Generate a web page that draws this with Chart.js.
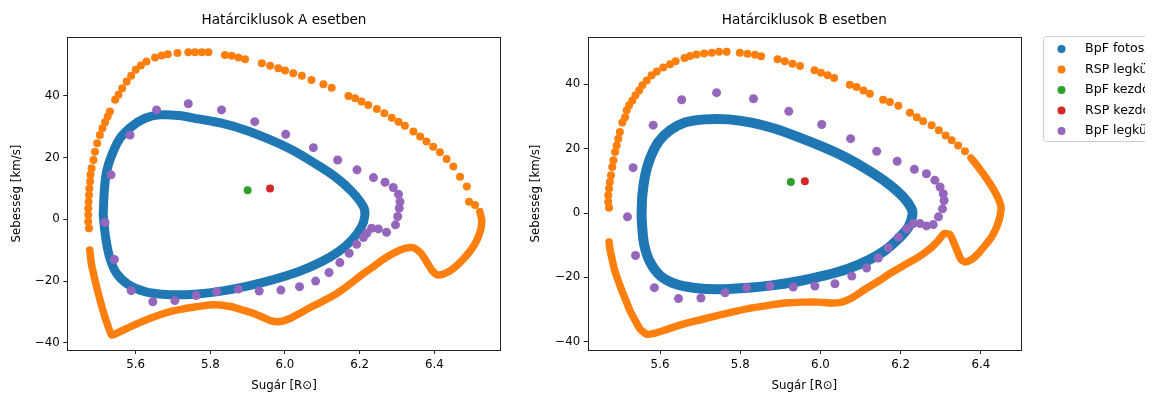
<!DOCTYPE html>
<html><head><meta charset="utf-8">
<script src="https://cdn.jsdelivr.net/npm/chart.js@4/dist/chart.umd.min.js"></script>
<style>
html,body{margin:0;padding:0;background:#fff;overflow:hidden;width:1152px;height:394px;}
canvas{position:absolute;top:0;}
#cA{left:0}
#cB{left:520px}
</style></head><body>
<canvas id="cA" width="520" height="394"></canvas>
<canvas id="cB" width="625" height="394"></canvas>
<script>
// ---------- tick labels & texts ----------
const X_TICKS = [5.6, 5.8, 6.0, 6.2, 6.4];
const Y_TICKS = [-40, -20, 0, 20, 40];
const TITLES = ['Határciklusok A esetben', 'Határciklusok B esetben'];
const X_LABEL = 'Sugár [R⊙]';
const Y_LABEL = 'Sebesség [km/s]';
const LEGEND_LABELS = ['BpF fotoszféra', 'RSP legkülső zóna', 'BpF kezdőpont', 'RSP kezdőpont', 'BpF legkülső zóna'];

// ---------- case A: [radius, velocity] ----------
const A_PHOT = [[5.513,1.4],[5.516,9.0],[5.522,15.4],[5.536,20.8],[5.558,26.2],[5.589,30.0],[5.625,32.7],[5.665,33.8],[5.714,33.6],[5.768,32.5],[5.830,31.1],[5.893,28.9],[5.955,26.0],[6.018,22.5],[6.080,18.1],[6.134,13.8],[6.179,9.0],[6.210,4.1],[6.214,1.4],[6.205,-2.4],[6.179,-6.7],[6.143,-10.5],[6.098,-13.7],[6.036,-17.0],[5.964,-19.7],[5.893,-21.8],[5.821,-23.4],[5.750,-24.3],[5.679,-24.3],[5.625,-23.4],[5.580,-21.1],[5.549,-17.5],[5.531,-12.6],[5.520,-6.2],[5.513,1.4]];
const A_RSP_DOTS = [[5.475,-2.9],[5.473,-0.8],[5.473,1.4],[5.473,3.6],[5.474,5.7],[5.475,7.9],[5.476,10.0],[5.478,12.2],[5.479,14.4],[5.482,16.5],[5.487,19.2],[5.491,21.9],[5.497,24.6],[5.504,27.3],[5.511,29.5],[5.518,31.4],[5.525,33.3],[5.531,34.9],[5.545,38.7],[5.554,40.3],[5.564,42.4],[5.576,44.6],[5.588,46.5],[5.600,48.4],[5.614,49.8],[5.629,51.1],[5.652,52.4],[5.670,53.0],[5.686,53.4],[5.712,53.8],[5.741,54.1],[5.759,54.1],[5.777,54.1],[5.795,54.1],[5.839,53.2],[5.857,52.9],[5.875,52.4],[5.893,51.8],[5.938,50.5],[5.960,49.7],[5.982,48.9],[6.000,48.2],[6.022,47.3],[6.045,46.5],[6.071,45.1],[6.103,43.7],[6.125,42.6],[6.170,39.9],[6.188,39.2],[6.205,38.1],[6.223,37.0],[6.246,35.7],[6.266,34.3],[6.286,32.9],[6.304,31.6],[6.321,30.3],[6.344,28.4],[6.362,26.8],[6.379,25.2],[6.397,23.5],[6.415,21.7],[6.433,19.5],[6.451,17.1],[6.469,13.8],[6.487,10.6],[6.493,5.7],[6.509,4.6]];
const A_RSP_BAND = [[6.522,2.5],[6.527,-0.2],[6.525,-2.9],[6.518,-5.6],[6.507,-8.3],[6.491,-11.0],[6.471,-13.7],[6.451,-15.9],[6.429,-17.5],[6.409,-18.0],[6.393,-16.4],[6.379,-13.7],[6.364,-11.0],[6.344,-9.2],[6.321,-9.4],[6.295,-10.7],[6.268,-12.6],[6.237,-15.3],[6.205,-18.0],[6.179,-20.5],[6.152,-22.9],[6.125,-25.0],[6.098,-26.7],[6.071,-28.3],[6.040,-30.4],[6.013,-32.1],[5.987,-33.1],[5.964,-32.9],[5.942,-31.8],[5.915,-30.4],[5.888,-29.4],[5.857,-28.3],[5.826,-27.7],[5.795,-27.7],[5.763,-28.3],[5.728,-29.0],[5.692,-29.9],[5.656,-31.3],[5.621,-32.9],[5.585,-34.8],[5.554,-36.6],[5.536,-37.5],[5.525,-34.2],[5.516,-31.0],[5.507,-27.2],[5.500,-24.0],[5.493,-20.7],[5.487,-17.5],[5.482,-14.8],[5.479,-12.1],[5.477,-9.9]];
const A_BPF_START = [[5.900,9.4]];
const A_RSP_START = [[5.960,10.0]];
const A_BPF_OUTER = [[5.656,35.4],[5.741,37.4],[5.830,35.4],[5.919,31.6],[6.002,27.5],[6.076,23.2],[6.141,19.2],[6.193,16.0],[6.237,13.5],[6.268,12.0],[6.290,10.3],[6.304,8.1],[6.308,5.7],[6.306,3.6],[6.302,0.9],[6.296,-1.8],[6.272,-4.2],[6.250,-3.1],[6.232,-2.9],[6.219,-4.5],[6.210,-5.9],[6.192,-8.1],[6.172,-11.0],[6.147,-14.0],[6.118,-17.2],[6.082,-20.0],[6.039,-21.8],[5.989,-22.9],[5.931,-23.2],[5.875,-22.6],[5.817,-23.4],[5.762,-24.7],[5.705,-26.3],[5.646,-26.7],[5.588,-23.1],[5.543,-13.0],[5.518,-1.0],[5.534,14.4],[5.585,27.3]];

// ---------- case B: [radius, velocity] ----------
const B_PHOT = [[5.554,-0.7],[5.556,5.5],[5.563,11.7],[5.575,16.9],[5.596,22.1],[5.625,25.7],[5.662,28.1],[5.712,29.1],[5.770,29.1],[5.828,28.1],[5.887,26.2],[5.945,23.6],[6.003,20.7],[6.061,17.4],[6.119,13.3],[6.169,9.1],[6.206,5.0],[6.227,1.3],[6.229,-0.7],[6.219,-4.4],[6.194,-8.0],[6.161,-11.6],[6.119,-14.7],[6.069,-17.3],[6.011,-19.4],[5.945,-21.2],[5.878,-22.5],[5.812,-23.3],[5.745,-23.7],[5.687,-23.3],[5.637,-22.0],[5.600,-19.4],[5.575,-15.2],[5.561,-10.1],[5.556,-4.9],[5.554,-0.7]];
const B_RSP_DOTS = [[5.473,1.6],[5.471,3.4],[5.471,5.5],[5.473,7.6],[5.475,9.6],[5.478,11.7],[5.481,14.3],[5.484,16.4],[5.488,19.0],[5.492,21.0],[5.496,23.1],[5.500,25.2],[5.506,28.1],[5.513,29.8],[5.517,31.9],[5.523,33.5],[5.531,35.0],[5.539,36.6],[5.548,38.1],[5.556,39.7],[5.567,41.2],[5.579,42.8],[5.592,44.0],[5.608,45.2],[5.625,46.2],[5.639,47.2],[5.661,48.2],[5.675,48.8],[5.691,49.3],[5.710,49.6],[5.729,49.8],[5.747,50.1],[5.766,50.1],[5.799,49.8],[5.818,49.5],[5.837,49.2],[5.852,48.7],[5.893,47.8],[5.911,47.2],[5.930,46.4],[5.949,45.7],[5.985,44.4],[6.001,43.6],[6.018,42.8],[6.034,42.0],[6.073,39.9],[6.090,39.2],[6.107,38.1],[6.123,37.1],[6.156,35.2],[6.173,34.5],[6.194,33.3],[6.223,31.2],[6.240,29.8],[6.256,28.5],[6.277,27.3],[6.295,25.7],[6.312,24.1],[6.327,22.6],[6.343,21.0],[6.360,19.2]];
const B_RSP_BAND = [[6.375,17.1],[6.393,14.3],[6.414,10.7],[6.431,7.4],[6.443,4.5],[6.450,1.9],[6.447,-1.2],[6.439,-4.4],[6.426,-7.5],[6.410,-10.1],[6.393,-12.6],[6.377,-14.4],[6.360,-15.2],[6.350,-14.4],[6.342,-12.1],[6.333,-9.5],[6.323,-6.7],[6.308,-6.4],[6.294,-8.5],[6.273,-11.1],[6.244,-13.7],[6.210,-16.1],[6.177,-18.5],[6.144,-21.2],[6.111,-23.7],[6.078,-26.4],[6.053,-27.7],[6.028,-28.0],[5.995,-27.7],[5.953,-27.7],[5.911,-28.0],[5.870,-28.7],[5.828,-29.5],[5.787,-30.6],[5.745,-31.8],[5.704,-33.1],[5.662,-34.4],[5.621,-36.0],[5.588,-37.3],[5.567,-37.7],[5.550,-36.0],[5.538,-33.4],[5.525,-30.3],[5.513,-26.6],[5.503,-23.5],[5.494,-20.4],[5.486,-17.3],[5.480,-14.0],[5.475,-11.1],[5.473,-9.0]];
const B_BPF_START = [[5.926,9.6]];
const B_RSP_START = [[5.961,9.9]];
const B_BPF_OUTER = [[5.654,35.2],[5.741,37.4],[5.833,35.5],[5.921,31.6],[6.003,27.5],[6.075,23.1],[6.140,19.2],[6.191,16.1],[6.234,13.6],[6.264,12.2],[6.285,10.2],[6.298,8.1],[6.306,6.0],[6.308,3.9],[6.304,1.3],[6.294,-1.2],[6.281,-3.6],[6.264,-4.0],[6.248,-3.3],[6.231,-3.3],[6.215,-4.9],[6.194,-7.5],[6.169,-10.8],[6.144,-14.0],[6.115,-17.1],[6.078,-19.6],[6.036,-22.0],[5.986,-22.7],[5.932,-23.0],[5.874,-22.7],[5.816,-23.2],[5.762,-24.8],[5.702,-26.4],[5.646,-26.6],[5.586,-23.2],[5.539,-13.2],[5.519,-1.2],[5.533,14.1],[5.583,27.3]];

// ---------- styling ----------
const COL = {blue:'#1f77b4', orange:'#ff7f0e', green:'#2ca02c', red:'#d62728', purple:'#9467bd'};
const LEGEND_COLORS = [COL.blue, COL.orange, COL.green, COL.red, COL.purple];
const FONT = 'DejaVu Sans';
const TXT = '#000';
const FS = 11.8;     // tick / label font size
const FS_L = 12.6;   // legend font size
const FS_T = 13.6;   // title font size
Chart.defaults.font.family = FONT;

const pts = a => a.map(p => ({x:p[0], y:p[1]}));
const fmtMinus = v => (v < 0 ? '\u2212' + Math.abs(v) : String(v));

const spinePlugin = {
  id: 'spines',
  afterDraw(chart) {
    const {ctx, chartArea: a} = chart;
    ctx.save();
    ctx.strokeStyle = '#222';
    ctx.lineWidth = 1;
    ctx.strokeRect(Math.round(a.left) + 0.5, Math.round(a.top) + 0.5, Math.round(a.right - a.left), Math.round(a.bottom - a.top));
    ctx.restore();
  }
};

const legendPlugin = {
  id: 'sideLegend',
  afterDraw(chart, args, opts) {
    if (!opts.show) return;
    const {ctx, chartArea: a} = chart;
    const x0 = a.right + 22.5, y0 = 36.5, w = 200, h = 105;
    ctx.save();
    ctx.beginPath();
    const r = 3;
    ctx.moveTo(x0 + r, y0);
    ctx.lineTo(x0 + w, y0);
    ctx.lineTo(x0 + w, y0 + h);
    ctx.lineTo(x0 + r, y0 + h);
    ctx.arcTo(x0, y0 + h, x0, y0 + h - r, r);
    ctx.lineTo(x0, y0 + r);
    ctx.arcTo(x0, y0, x0 + r, y0, r);
    ctx.fillStyle = 'rgba(255,255,255,0.8)';
    ctx.fill();
    ctx.strokeStyle = '#cccccc';
    ctx.lineWidth = 1;
    ctx.stroke();
    ctx.font = FS_L + 'px ' + FONT;
    ctx.textBaseline = 'middle';
    ctx.textAlign = 'left';
    LEGEND_LABELS.forEach((lab, i) => {
      const y = y0 + 12.5 + i * 20.5;
      ctx.beginPath();
      ctx.arc(x0 + 18, y, 4, 0, Math.PI * 2);
      ctx.fillStyle = LEGEND_COLORS[i];
      ctx.fill();
      ctx.fillStyle = TXT;
      ctx.fillText(lab, x0 + 41.5, y);
    });
    ctx.restore();
  }
};

function makeChart(id, title, d, xr, yr, padRight, yAxisW, yTitlePad, showLegend) {
  const tickFont = {family: FONT, size: FS};
  return new Chart(document.getElementById(id), {
    type: 'scatter',
    data: {
      datasets: [
        {label: LEGEND_LABELS[0], data: pts(d.phot), showLine: true, borderColor: COL.blue, borderWidth: d.photW, tension: 0.35, pointRadius: 0, borderJoinStyle: 'round', borderCapStyle: 'round', order: 6},
        {label: LEGEND_LABELS[1], data: pts(d.rspBand), showLine: true, borderColor: COL.orange, borderWidth: 7.5, tension: 0.2, pointRadius: 0, borderJoinStyle: 'round', borderCapStyle: 'round', order: 5},
        {label: LEGEND_LABELS[1], data: pts(d.rspDots), showLine: false, backgroundColor: COL.orange, borderWidth: 0, pointRadius: 4, order: 4},
        {label: LEGEND_LABELS[2], data: pts(d.bpfStart), backgroundColor: COL.green, borderWidth: 0, pointRadius: 4, order: 3},
        {label: LEGEND_LABELS[3], data: pts(d.rspStart), backgroundColor: COL.red, borderWidth: 0, pointRadius: 4, order: 2},
        {label: LEGEND_LABELS[4], data: pts(d.outer), backgroundColor: COL.purple, borderWidth: 0, pointRadius: 4.5, order: 1}
      ]
    },
    options: {
      responsive: false, animation: false, devicePixelRatio: 1,
      events: [],
      layout: {padding: {left: 0, right: padRight, top: 0, bottom: 0}},
      plugins: {
        legend: {display: false}, tooltip: {enabled: false},
        title: {display: true, text: title, fullSize: false, color: TXT, font: {family: FONT, size: FS_T, weight: 'normal'}, padding: {top: 12.7, bottom: 8.0}},
        sideLegend: {show: showLegend}
      },
      scales: {
        x: {
          type: 'linear', min: xr[0], max: xr[1],
          afterBuildTicks: s => { s.ticks = X_TICKS.map(v => ({value: v})); },
          afterFit: s => { s.height = 44; },
          ticks: {callback: v => v.toFixed(1), color: TXT, font: tickFont, padding: 4, maxRotation: 0, autoSkip: false},
          grid: {drawOnChartArea: false, drawTicks: true, tickLength: 4, tickColor: '#222'},
          border: {display: false},
          title: {display: true, text: X_LABEL, color: TXT, font: {family: FONT, size: FS}, padding: {top: 0, bottom: 1}}
        },
        y: {
          type: 'linear', min: yr[0], max: yr[1],
          afterBuildTicks: s => { s.ticks = Y_TICKS.map(v => ({value: v})); },
          afterFit: s => { s.width = yAxisW; },
          ticks: {callback: v => fmtMinus(v), color: TXT, font: tickFont, padding: 3.5, autoSkip: false},
          grid: {drawOnChartArea: false, drawTicks: true, tickLength: 4, tickColor: '#222'},
          border: {display: false},
          title: {display: true, text: Y_LABEL, color: TXT, font: {family: FONT, size: FS}, padding: {top: yTitlePad, bottom: 0}}
        }
      }
    },
    plugins: [spinePlugin, legendPlugin]
  });
}

makeChart('cA', TITLES[0],
  {phot: A_PHOT, photW: 9, rspBand: A_RSP_BAND, rspDots: A_RSP_DOTS, bpfStart: A_BPF_START, rspStart: A_RSP_START, outer: A_BPF_OUTER},
  [5.4169, 6.5778], [-42.3, 59.0], 19.3, 67.3, 10, false);
makeChart('cB', TITLES[1],
  {phot: B_PHOT, photW: 10, rspBand: B_RSP_BAND, rspDots: B_RSP_DOTS, bpfStart: B_BPF_START, rspStart: B_RSP_START, outer: B_BPF_OUTER},
  [5.4198, 6.4997], [-42.58, 54.7], 124, 67.7, 9, true);
</script>
</body></html>
